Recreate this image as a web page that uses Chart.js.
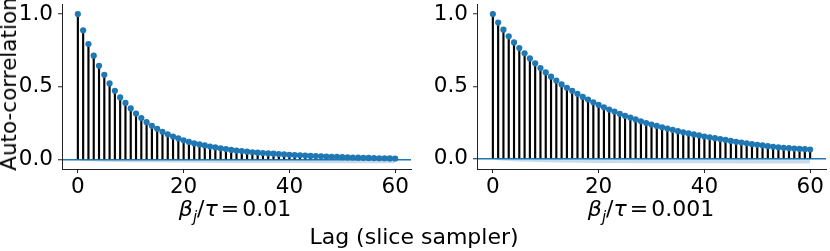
<!DOCTYPE html>
<html>
<head>
<meta charset="utf-8">
<script src="https://cdn.jsdelivr.net/npm/chart.js@4.4.1/dist/chart.umd.min.js"></script>
<style>
  body { margin: 0; width: 830px; height: 251px; background: #fff; position: relative; overflow: hidden; font-family: "DejaVu Sans", sans-serif; }
  .box { position: absolute; top: 0; width: 415px; height: 251px; }
  .lbl { position: absolute; font-size: 22px; line-height: 22px; color: #000; white-space: nowrap; transform: translateX(-50%); }
  .lbl sub { font-size: 15px; line-height: 0; position: relative; top: 1px; }
  .lbl .eq { margin: 0 3px; }
  #ylab { position: absolute; left: 9px; top: 84px; font-size: 21.5px; line-height: 22px; white-space: nowrap; transform: translate(-50%, -50%) rotate(-90deg); }
</style>
</head>
<body>
<div class="box" style="left:0"><canvas id="left" width="415" height="251"></canvas></div>
<div class="box" style="left:415px"><canvas id="right" width="415" height="251"></canvas></div>
<div class="lbl" style="left:235px; top:198px"><i>β</i><sub><i>j</i></sub>/<i>τ</i><span class="eq">=</span>0.01</div>
<div class="lbl" style="left:651px; top:198px"><i>β</i><sub><i>j</i></sub>/<i>τ</i><span class="eq">=</span>0.001</div>
<div class="lbl" style="left:414px; top:226px">Lag (slice sampler)</div>
<div id="ylab">Auto-correlation</div>
<script>
const lags = [0, 1, 2, 3, 4, 5, 6, 7, 8, 9, 10, 11, 12, 13, 14, 15, 16, 17, 18, 19, 20,
  21, 22, 23, 24, 25, 26, 27, 28, 29, 30, 31, 32, 33, 34, 35, 36, 37, 38, 39, 40,
  41, 42, 43, 44, 45, 46, 47, 48, 49, 50, 51, 52, 53, 54, 55, 56, 57, 58, 59, 60];

// beta_j / tau = 0.01
const acfLeft = [1.0, 0.888, 0.794, 0.714, 0.644, 0.582, 0.523, 0.472, 0.427, 0.389, 0.351,
  0.316, 0.285, 0.257, 0.232, 0.211, 0.191, 0.173, 0.158, 0.145, 0.132,
  0.121, 0.111, 0.104, 0.097, 0.089, 0.083, 0.077, 0.072, 0.066, 0.061,
  0.058, 0.054, 0.050, 0.047, 0.045, 0.042, 0.040, 0.038, 0.035, 0.033,
  0.031, 0.029, 0.027, 0.025, 0.024, 0.022, 0.021, 0.019, 0.018, 0.016,
  0.015, 0.014, 0.013, 0.012, 0.011, 0.010, 0.009, 0.009, 0.008, 0.007];

// beta_j / tau = 0.001
const acfRight = [1.0, 0.941, 0.892, 0.846, 0.804, 0.765, 0.729, 0.693, 0.659, 0.626, 0.596,
  0.567, 0.540, 0.513, 0.490, 0.469, 0.448, 0.427, 0.409, 0.390, 0.371,
  0.355, 0.339, 0.325, 0.310, 0.296, 0.283, 0.271, 0.258, 0.246, 0.236,
  0.226, 0.217, 0.208, 0.199, 0.190, 0.182, 0.174, 0.167, 0.160, 0.153,
  0.147, 0.141, 0.135, 0.129, 0.122, 0.116, 0.111, 0.106, 0.100, 0.095,
  0.091, 0.086, 0.082, 0.078, 0.075, 0.072, 0.069, 0.067, 0.065, 0.063];

// confidence band (lower edge, read roughly)
const bandLags = [0, 1, 5, 10, 20, 30, 40, 50, 60];
const bandLeft = [0, -0.010, -0.015, -0.018, -0.021, -0.023, -0.024, -0.025, -0.025];
const bandRight = [0, -0.012, -0.020, -0.025, -0.030, -0.032, -0.033, -0.034, -0.034];

const xTicks = [0, 20, 40, 60];
const yTicks = [0, 0.5, 1.0];

const blue = "#1f77b4";
const tickFont = { family: "DejaVu Sans", size: 21.5 };

function makeChart(id, acf, band, yMin, yMax) {
  const ctx = document.getElementById(id).getContext("2d");
  return new Chart(ctx, {
    type: "scatter",
    data: {
      datasets: [
        {
          label: "acf",
          data: lags.map((x, i) => ({ x: x, y: acf[i] })),
          backgroundColor: blue,
          borderWidth: 0,
          pointRadius: 3.1,
          order: 0,
        },
        {
          type: "bar",
          label: "stems",
          data: lags.map((x, i) => ({ x: x, y: [0, acf[i]] })),
          backgroundColor: "#000",
          barThickness: 1.5,
          grouped: false,
          order: 1,
        },
        {
          type: "line",
          label: "band",
          data: bandLags.map((x, i) => ({ x: x, y: band[i] })),
          borderWidth: 0,
          pointRadius: 0,
          fill: "origin",
          backgroundColor: "rgba(31,119,180,0.25)",
          order: 2,
        },
      ],
    },
    options: {
      responsive: false,
      animation: false,
      events: [],
      layout: { padding: { top: 0, left: 0, right: 3, bottom: 0 } },
      plugins: { legend: { display: false }, tooltip: { enabled: false } },
      scales: {
        x: {
          type: "linear",
          min: -3,
          max: 63,
          offset: false,
          afterBuildTicks: (s) => { s.ticks = xTicks.map((v) => ({ value: v })); },
          afterFit: (s) => { s.height = 82; s.paddingLeft = 0; s.paddingRight = 0; },
          ticks: { font: tickFont, color: "#000", padding: 2, maxRotation: 0, callback: (v) => String(v) },
          grid: { display: true, drawOnChartArea: false, offset: false, tickLength: 4, tickColor: "#222", tickWidth: 1 },
          border: { display: true, color: "#222", width: 1 },
        },
        y: {
          type: "linear",
          min: yMin,
          max: yMax,
          afterBuildTicks: (s) => { s.ticks = yTicks.map((v) => ({ value: v })); },
          afterFit: (s) => { s.width = 62; s.paddingTop = 0; s.paddingBottom = 0; },
          ticks: { font: tickFont, color: "#000", padding: 5, callback: (v) => v.toFixed(1) },
          grid: {
            display: true,
            drawOnChartArea: true,
            color: (c) => (c.tick && c.tick.value === 0 ? blue : "rgba(0,0,0,0)"),
            lineWidth: 1.5,
            tickLength: 4,
            tickColor: "#222",
            tickWidth: 1,
          },
          border: { display: true, color: "#222", width: 1 },
        },
      },
    },
  });
}

makeChart("left", acfLeft, bandLeft, -0.065, 1.069);
makeChart("right", acfRight, bandRight, -0.072, 1.0696);
</script>
</body>
</html>
